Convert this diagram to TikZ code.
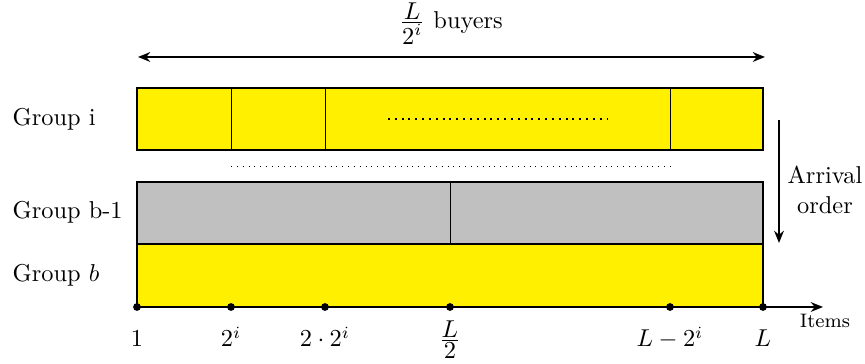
\documentclass[tikz,border=0pt]{standalone}
\usepackage{amsmath,amssymb}
\usepackage{tikz}
\usetikzlibrary{arrows.meta}
\definecolor{celly}{RGB}{255,240,0}
\definecolor{cellg}{RGB}{192,192,192}
\newcommand{\tfr}[2]{\frac{\textstyle #1}{\textstyle #2}}

\begin{document}
\begin{tikzpicture}[x=0.41pt,y=-0.41pt,>={Stealth[length=5pt,width=4pt]},
  dot/.style={circle,fill=black,inner sep=0pt,minimum size=3.2pt},
  ticklabel/.style={anchor=base},
  grouplabel/.style={anchor=west}]
  \useasboundingbox (0,0) rectangle (865,364);
  \coordinate (bl) at (138,57);
  \coordinate (br) at (765,57);
  \draw[thick,<->] (bl) -- (br);
  \node[anchor=base] (buyers) at (451,29) {$\tfr{L}{2^i}$ buyers};
  \draw[thick,fill=celly] (137,88) rectangle (763,150);
  \draw (231,88) -- (231,150);
  \draw (325,88) -- (325,150);
  \draw (670,88) -- (670,150);
  \draw[thick,dotted] (388,119) -- (609,119);
  \draw[dotted] (231,166) -- (671,166);
  \draw[thick,fill=cellg] (137,182) rectangle (763,244);
  \draw (450,182) -- (450,244);
  \draw[thick,fill=celly] (137,244) rectangle (763,307);
  \node[grouplabel] (gi) at (4,119) {Group i};
  \node[grouplabel] (gbm) at (4,212) {Group b-1};
  \node[grouplabel] (gb) at (4,275) {Group $b$};
  \coordinate (arrtop) at (779,120);
  \coordinate (arrbot) at (779,243);
  \draw[thick,->] (arrtop) -- (arrbot);
  \node[align=center] (arrival) at (825,190) {Arrival\\order};
  \coordinate (ax1) at (137,307);
  \coordinate (ax2) at (231,307);
  \coordinate (ax3) at (325,307);
  \coordinate (ax4) at (450,307);
  \coordinate (ax5) at (670,307);
  \coordinate (ax6) at (763,307);
  \coordinate (axend) at (823,307);
  \draw[thick,->] (ax1) -- (axend);
  \node[dot] (d1) at (ax1) {};
  \node[dot] (d2) at (ax2) {};
  \node[dot] (d3) at (ax3) {};
  \node[dot] (d4) at (ax4) {};
  \node[dot] (d5) at (ax5) {};
  \node[dot] (d6) at (ax6) {};
  \node[font=\footnotesize] (items) at (825,321) {Items};
  \node[ticklabel] (l1) at (137,347) {$1$};
  \node[ticklabel] (l2) at (231,347) {$2^i$};
  \node[ticklabel] (l3) at (325,347) {$2\cdot 2^i$};
  \node[ticklabel] (l4) at (450,347) {$\tfr{L}{2}$};
  \node[ticklabel] (l5) at (670,347) {$L-2^i$};
  \node[ticklabel] (l6) at (763,347) {$L$};
\end{tikzpicture}
\end{document}
